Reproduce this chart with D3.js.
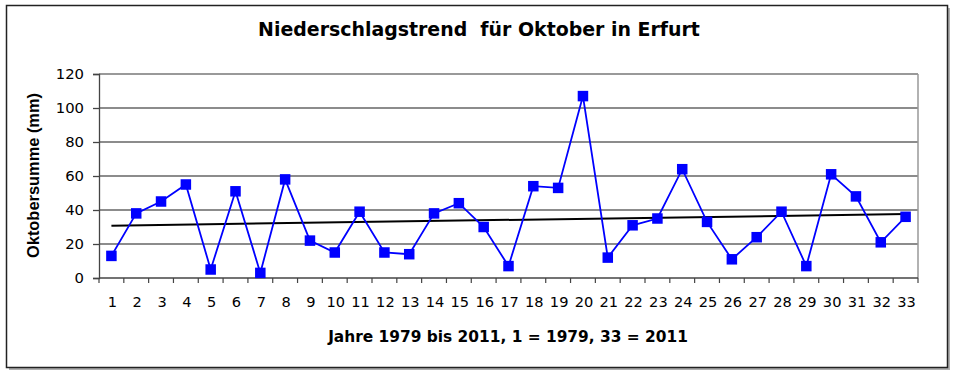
<!DOCTYPE html>
<html><head><meta charset="utf-8">
<script src="https://cdn.jsdelivr.net/npm/d3@7"></script>
<style>
html,body{margin:0;padding:0;background:#fff;}
svg{display:block;}
</style></head>
<body>
<svg id="chart" width="957" height="375"></svg>
<script>
const categories = ["1","2","3","4","5","6","7","8","9","10","11","12","13","14","15","16","17","18","19","20","21","22","23","24","25","26","27","28","29","30","31","32","33"];
const values = [13,38,45,55,5,51,3,58,22,15,39,15,14,38,44,30,7,54,53,107,12,31,35,64,33,11,24,39,7,61,48,21,36];
const yTicks = [0,20,40,60,80,100,120];
const titleText = "Niederschlagstrend\u00a0\u00a0für Oktober in Erfurt";
const xTitle = "Jahre 1979 bis 2011, 1 = 1979, 33 = 2011";
const yTitle = "Oktobersumme (mm)";

const svg = d3.select("#chart");
const m = {left: 99, right: 918, top: 74, bottom: 278};
const FONT = "'DejaVu Sans', Verdana, sans-serif";
const FONT2 = "'Liberation Sans', Arial, sans-serif";

function fit(sel, target) {
  const node = sel.node();
  const base = parseFloat(sel.attr("font-size"));
  const w = node.getComputedTextLength();
  if (w > 0) sel.attr("font-size", (base * target / w).toFixed(2));
}

// outer frame with shadow
svg.append("rect").attr("x", 9).attr("y", 8).attr("width", 941).attr("height", 362).attr("fill", "#b0b0b0");
svg.append("rect").attr("x", 6.5).attr("y", 5.5).attr("width", 941).attr("height", 362)
  .attr("fill", "#fff").attr("stroke", "#222").attr("stroke-width", 1.5);

const x = d3.scaleBand().domain(categories).range([m.left, m.right]).paddingInner(0).paddingOuter(0);
const y = d3.scaleLinear().domain([0, 120]).range([m.bottom, m.top]);

// grid lines
svg.append("g").selectAll("line").data(yTicks.filter(t => t > 0)).join("line")
  .attr("x1", m.left).attr("x2", m.right)
  .attr("y1", d => y(d)).attr("y2", d => y(d))
  .attr("stroke", d => d === 120 ? "#999" : "#666")
  .attr("stroke-width", d => d === 120 ? 2 : 1.3);
svg.append("line").attr("x1", m.right).attr("x2", m.right).attr("y1", m.top).attr("y2", m.bottom)
  .attr("stroke", "#999").attr("stroke-width", 1.5);

// y axis
const yAxis = d3.axisLeft(y).tickValues(yTicks).tickSize(6).tickPadding(9).tickFormat(d3.format("d"));
const gy = svg.append("g").attr("transform", `translate(${m.left},0)`).call(yAxis)
  .attr("font-family", null).attr("font-size", null);
gy.select(".domain").attr("stroke", "#444").attr("stroke-width", 1.3);
gy.selectAll(".tick line").attr("stroke", "#444").attr("stroke-width", 1.3);
gy.selectAll(".tick text").style("font-family", FONT).style("font-size", "14.8px").attr("fill", "#000");

// x axis: ticks at category boundaries
const gx = svg.append("g").attr("transform", `translate(0,${m.bottom})`);
gx.append("line").attr("x1", m.left).attr("x2", m.right).attr("stroke", "#444").attr("stroke-width", 1.3);
const bounds = categories.map(c => x(c)).concat([m.right]);
gx.selectAll("line.tk").data(bounds).join("line").attr("class", "tk")
  .attr("x1", d => d).attr("x2", d => d).attr("y1", 0).attr("y2", 5)
  .attr("stroke", "#444").attr("stroke-width", 1.2);
gx.selectAll("text").data(categories).join("text")
  .attr("x", d => x(d) + x.bandwidth()/2 + 1).attr("y", 29)
  .attr("text-anchor", "middle").style("font-family", FONT).style("font-size", "14.6px")
  .attr("fill", "#000").text(d => d);

// trend line (least squares)
const n = values.length;
const xs = values.map((v, i) => i + 1);
const mx = d3.mean(xs), my = d3.mean(values);
const slope = d3.sum(xs.map((xi, i) => (xi - mx) * (values[i] - my))) / d3.sum(xs.map(xi => (xi - mx) ** 2));
const icpt = my - slope * mx;
const cx = i => x(categories[i]) + x.bandwidth()/2;
svg.append("line")
  .attr("x1", cx(0)).attr("y1", y(icpt + slope * 1))
  .attr("x2", cx(n-1)).attr("y2", y(icpt + slope * n))
  .attr("stroke", "#000").attr("stroke-width", 2);

// data line
const line = d3.line().x((d, i) => cx(i)).y(d => y(d));
svg.append("path").datum(values).attr("d", line)
  .attr("fill", "none").attr("stroke", "#0000ff").attr("stroke-width", 1.8);
const ms = 10.5;
svg.append("g").selectAll("rect").data(values).join("rect")
  .attr("x", (d, i) => cx(i) - ms/2).attr("y", d => y(d) - ms/2)
  .attr("width", ms).attr("height", ms).attr("fill", "#0000ff");

// titles
const t1 = svg.append("text").attr("x", 479).attr("y", 36).attr("text-anchor", "middle")
  .attr("font-family", FONT).attr("font-weight", "bold").attr("font-size", 18)
  .attr("fill", "#000").text(titleText);
fit(t1, 442);
const t2 = svg.append("text").attr("x", 508).attr("y", 342).attr("text-anchor", "middle")
  .attr("font-family", FONT).attr("font-weight", "bold").attr("font-size", 15)
  .attr("fill", "#000").text(xTitle);
fit(t2, 360);
const t3 = svg.append("text").attr("transform", "translate(38.5,175.5) rotate(-90)").attr("text-anchor", "middle")
  .attr("font-family", FONT2).attr("font-weight", "bold").attr("font-size", 16)
  .attr("fill", "#000").text(yTitle);
fit(t3, 165);
</script>
</body></html>
